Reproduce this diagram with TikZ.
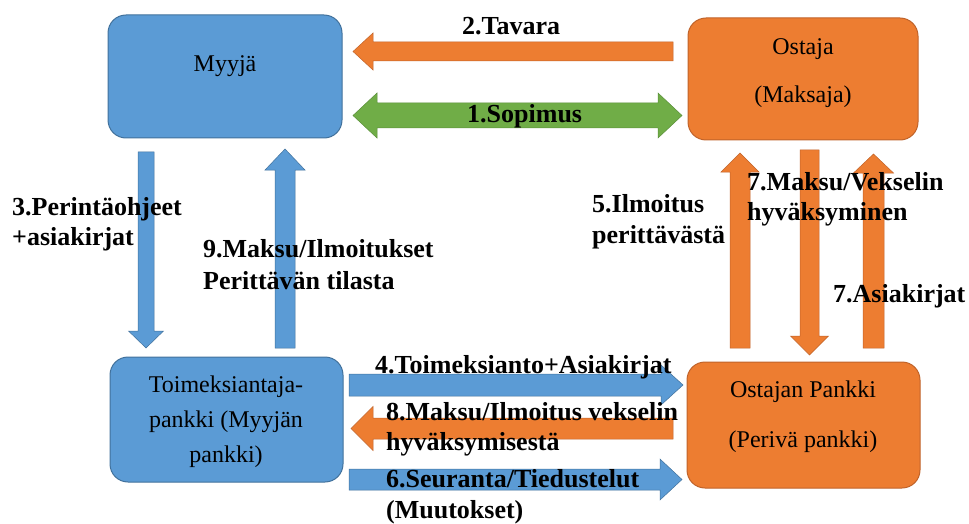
\documentclass[tikz,border=0pt]{standalone}
\usepackage{fontspec}
\setmainfont{LiberationSerif}[Extension=.ttf, UprightFont=*-Regular, BoldFont=*-Bold, ItalicFont=*-Italic, BoldItalicFont=*-BoldItalic]
\usetikzlibrary{calc}
\definecolor{mblue}{HTML}{5B9BD5}
\definecolor{mblueb}{HTML}{41719C}
\definecolor{morange}{HTML}{ED7D31}
\definecolor{morangeb}{HTML}{C0632A}
\definecolor{mgreen}{HTML}{70AD47}
\definecolor{mgreenb}{HTML}{5A8F39}
\newcommand\lleft[1]{\begin{tabular}[t]{@{}l@{}}#1\end{tabular}}
\newcommand\lcent[1]{\begin{tabular}[t]{@{}c@{}}#1\end{tabular}}
% block arrow: style, start, tip, half shaft, half head, head length
\newcommand\blockarrow[6]{%
  \coordinate (bh) at ($(#3)!#6!(#2)$);
  \filldraw[#1] ($(#2)!#4!90:(#3)$) -- ($(bh)!#4!-90:(#2)$) -- ($(bh)!#5!-90:(#2)$)
    -- (#3) -- ($(bh)!#5!90:(#2)$) -- ($(bh)!#4!90:(#2)$) -- ($(#2)!#4!-90:(#3)$) -- cycle;}
% double block arrow: style, end A, end B, half shaft, half head, head length
\newcommand\dblockarrow[6]{%
  \coordinate (bha) at ($(#2)!#6!(#3)$);
  \coordinate (bhb) at ($(#3)!#6!(#2)$);
  \filldraw[#1] (#2) -- ($(bha)!#5!90:(#3)$) -- ($(bha)!#4!90:(#3)$) -- ($(bhb)!#4!-90:(#2)$)
    -- ($(bhb)!#5!-90:(#2)$) -- (#3) -- ($(bhb)!#5!90:(#2)$) -- ($(bhb)!#4!90:(#2)$)
    -- ($(bha)!#4!-90:(#3)$) -- ($(bha)!#5!-90:(#3)$) -- cycle;}
\tikzset{
  bluebox/.style={rectangle, rounded corners=18pt, fill=mblue, draw=mblueb, line width=1pt, inner sep=0pt},
  orangebox/.style={rectangle, rounded corners=18pt, fill=morange, draw=morangeb, line width=1pt, inner sep=0pt},
  barr/.style={fill=mblue, draw=mblueb, line width=0.5pt},
  oarr/.style={fill=morange, draw=morangeb, line width=0.5pt},
  garr/.style={fill=mgreen, draw=mgreenb, line width=0.5pt},
  btxt/.style={anchor=base, inner sep=0pt, text=black, font=\rmfamily\fontsize{24}{35}\selectfont},
  lbl/.style={anchor=base west, inner sep=0pt, text=black, font=\rmfamily\fontsize{26}{31}\selectfont\bfseries},
}
\begin{document}
\begin{tikzpicture}[x=1pt,y=-1pt]
\useasboundingbox (0,0) rectangle (969,524);
% boxes
\node[bluebox, minimum width=234pt, minimum height=123pt] (myyja) at (225,76.5) {};
\node[orangebox, minimum width=230pt, minimum height=122pt] (ostaja) at (803,79) {};
\node[bluebox, minimum width=233pt, minimum height=125pt] (toim) at (226.5,419.5) {};
\node[orangebox, minimum width=233pt, minimum height=126pt] (opankki) at (803.5,425) {};
% box texts
\node[btxt] (tmyyja) at (225,72) {Myyjä};
\node[btxt, font=\rmfamily\fontsize{24}{48}\selectfont] (tostaja) at (803,55) {\lcent{Ostaja\\(Maksaja)}};
\node[btxt, font=\rmfamily\fontsize{24}{35}\selectfont] (ttoim) at (226,392) {\lcent{Toimeksiantaja-\\pankki (Myyjän\\pankki)}};
\node[btxt, font=\rmfamily\fontsize{24}{50}\selectfont] (topankki) at (803,397) {\lcent{Ostajan Pankki\\(Perivä pankki)}};
% arrow end points
\coordinate (a2s) at (673,51.5);   \coordinate (a2t) at (353,51.5);
\coordinate (a1a) at (353,115.5);  \coordinate (a1b) at (682,115.5);
\coordinate (a3s) at (146,152);    \coordinate (a3t) at (146,348);
\coordinate (a9s) at (285,348);    \coordinate (a9t) at (285,149);
\coordinate (a5s) at (740,348);    \coordinate (a5t) at (740,153);
\coordinate (a7s) at (809.5,150);  \coordinate (a7t) at (809.5,355);
\coordinate (a7bs) at (873.5,348); \coordinate (a7bt) at (873.5,154);
\coordinate (a4s) at (349,385);    \coordinate (a4t) at (683,385);
\coordinate (a8s) at (673,428.5);  \coordinate (a8t) at (351,428.5);
\coordinate (a6s) at (349,479.5);  \coordinate (a6t) at (682,479.5);
% arrows
\blockarrow{oarr}{a2s}{a2t}{9.5pt}{18.5pt}{20pt}
\dblockarrow{garr}{a1a}{a1b}{12.5pt}{22.5pt}{24pt}
\blockarrow{barr}{a3s}{a3t}{8pt}{17.5pt}{17pt}
\blockarrow{barr}{a9s}{a9t}{10pt}{20pt}{21pt}
\blockarrow{oarr}{a5s}{a5t}{10pt}{19pt}{19pt}
\blockarrow{oarr}{a7s}{a7t}{9.5pt}{19pt}{19pt}
\blockarrow{oarr}{a7bs}{a7bt}{10.5pt}{20pt}{19pt}
\blockarrow{barr}{a4s}{a4t}{11pt}{20pt}{22pt}
\blockarrow{oarr}{a8s}{a8t}{10.5pt}{22pt}{22pt}
\blockarrow{barr}{a6s}{a6t}{10.5pt}{20.5pt}{22pt}
% labels
\node[lbl] (l2) at (462,35) {2.Tavara};
\node[lbl] (l1) at (467,123) {1.Sopimus};
\node[lbl, font=\rmfamily\fontsize{26}{30}\selectfont\bfseries] (l3) at (12,215) {\lleft{3.Perintäohjeet\\+asiakirjat}};
\node[lbl, font=\rmfamily\fontsize{26}{32}\selectfont\bfseries] (l9) at (203,257) {\lleft{9.Maksu/Ilmoitukset\\Perittävän tilasta}};
\node[lbl, font=\rmfamily\fontsize{26}{31}\selectfont\bfseries] (l5) at (592,212) {\lleft{5.Ilmoitus\\perittävästä}};
\node[lbl, font=\rmfamily\fontsize{26}{30}\selectfont\bfseries] (l7a) at (747,190) {\lleft{7.Maksu/Vekselin\\hyväksyminen}};
\node[lbl] (l7b) at (833,302) {7.Asiakirjat};
\node[lbl] (l4) at (375,373) {4.Toimeksianto+Asiakirjat};
\node[lbl, font=\rmfamily\fontsize{26}{30}\selectfont\bfseries] (l8) at (386,420) {\lleft{8.Maksu/Ilmoitus vekselin\\hyväksymisestä}};
\node[lbl, font=\rmfamily\fontsize{26}{31}\selectfont\bfseries] (l6) at (386,487) {\lleft{6.Seuranta/Tiedustelut\\(Muutokset)}};
\end{tikzpicture}
\end{document}
